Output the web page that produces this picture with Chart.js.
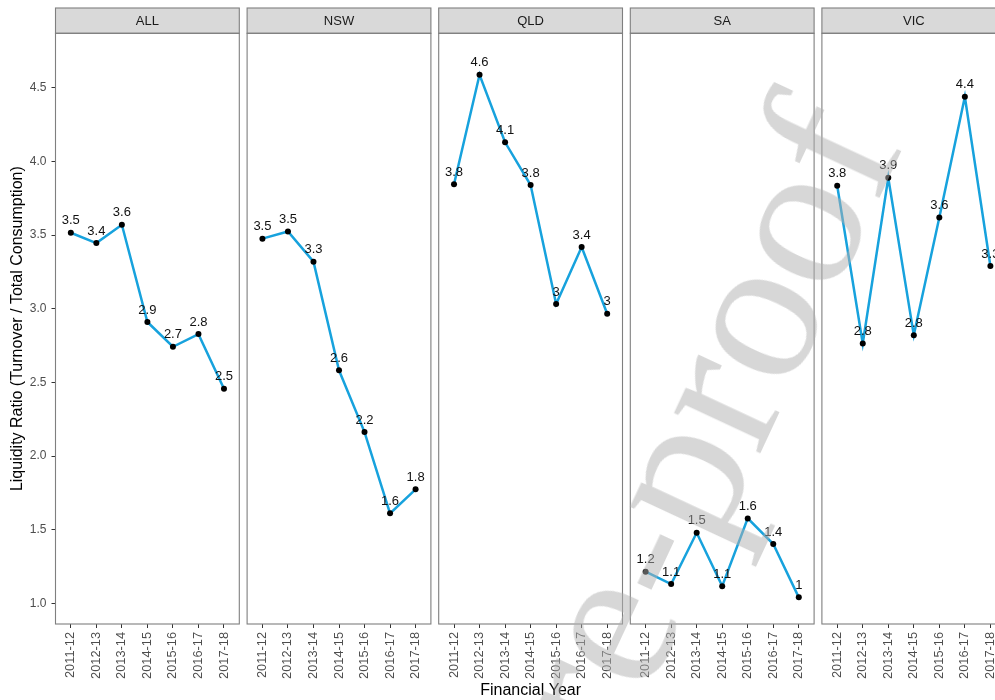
<!DOCTYPE html>
<html>
<head>
<meta charset="utf-8">
<script src="https://cdn.jsdelivr.net/npm/chart.js@4.4.1/dist/chart.umd.min.js"></script>
<style>
  html, body { margin: 0; padding: 0; background: #ffffff; }
  #stage { position: relative; width: 995px; height: 700px; overflow: hidden; background: #ffffff; }
  #stage canvas { position: absolute; left: 0; top: 0; }
  #wm { position: absolute; left: 905px; top: 143px; width: 0; height: 0;
        transform: rotate(-65deg); transform-origin: 0 0; pointer-events: none; }
  #wm span { position: absolute; right: 0; bottom: -0.1625em; font-family: "Liberation Serif", "Times New Roman", serif;
             font-size: 208px; line-height: 1; white-space: nowrap; color: rgba(175,175,175,0.5); }
</style>
</head>
<body>
<div id="stage">
  <canvas id="c0" width="1100" height="700"></canvas>
  <canvas id="c1" width="1100" height="700"></canvas>
  <canvas id="c2" width="1100" height="700"></canvas>
  <canvas id="c3" width="1100" height="700"></canvas>
  <canvas id="c4" width="1100" height="700"></canvas>
  <div id="wm"><span>Journal Pre-proof</span></div>
</div>
<script>
// Financial years on the x axis
const years = ['2011-12', '2012-13', '2013-14', '2014-15', '2015-16', '2016-17', '2017-18'];
// Facet names
const regions = ['ALL', 'NSW', 'QLD', 'SA', 'VIC'];
// Liquidity ratio per region
const allRatio = [3.516, 3.446, 3.570, 2.910, 2.742, 2.828, 2.457];
const nswRatio = [3.476, 3.525, 3.320, 2.582, 2.163, 1.611, 1.774];
const qldRatio = [3.845, 4.589, 4.130, 3.840, 3.032, 3.419, 2.966];
const saRatio  = [1.215, 1.131, 1.479, 1.117, 1.577, 1.403, 1.041];
const vicRatio = [3.835, 2.765, 3.889, 2.821, 3.620, 4.439, 3.290];
// Y axis tick values
const yTicks = [1.0, 1.5, 2.0, 2.5, 3.0, 3.5, 4.0, 4.5];

const seriesByRegion = [allRatio, nswRatio, qldRatio, saRatio, vicRatio];

const FONT = '"Liberation Sans", Arial, sans-serif';
const LINE_COLOR = '#17a2dd';
const BORDER_COLOR = '#7f7f7f';
const CANVAS_W = 1100;

// Panel geometry (facet grid)
const PANEL_LEFT0 = 55.5;
const PANEL_STEP = 191.6;
const PANEL_W = 183.8;
const STRIP_TOP = 8;
const PANEL_TOP = 33.3;
const XAXIS_H = 76;

const fmtLabel = v => String(Math.round(v * 10) / 10);

// Grey facet strip with the region name, plus the panel border
const facetPlugin = {
  id: 'facet',
  beforeDatasetsDraw(chart, args, opts) {
    const { ctx, chartArea: a } = chart;
    ctx.save();
    ctx.fillStyle = '#d9d9d9';
    ctx.fillRect(a.left, STRIP_TOP, a.right - a.left, a.top - STRIP_TOP);
    ctx.strokeStyle = BORDER_COLOR;
    ctx.lineWidth = 1.1;
    ctx.strokeRect(a.left, STRIP_TOP, a.right - a.left, a.top - STRIP_TOP);
    ctx.fillStyle = '#1a1a1a';
    ctx.font = '13px ' + FONT;
    ctx.textAlign = 'center';
    ctx.textBaseline = 'middle';
    ctx.fillText(opts.title, (a.left + a.right) / 2, (STRIP_TOP + a.top) / 2 + 0.5);
    ctx.strokeRect(a.left, a.top, a.right - a.left, a.bottom - a.top);
    ctx.restore();
  }
};

// Rounded value printed above each point
const valueLabelPlugin = {
  id: 'valueLabels',
  afterDatasetsDraw(chart) {
    const { ctx } = chart;
    const meta = chart.getDatasetMeta(0);
    const data = chart.data.datasets[0].data;
    ctx.save();
    ctx.fillStyle = '#111111';
    ctx.font = '13px ' + FONT;
    ctx.textAlign = 'center';
    ctx.textBaseline = 'alphabetic';
    meta.data.forEach((pt, i) => {
      ctx.fillText(fmtLabel(data[i].y), pt.x, pt.y - 8.5);
    });
    ctx.restore();
  }
};

function makePanel(idx) {
  const left = PANEL_LEFT0 + PANEL_STEP * idx;
  const right = left + PANEL_W;
  const first = idx === 0;
  const values = seriesByRegion[idx];
  const points = years.map((y, i) => ({ x: i, y: values[i] }));

  return new Chart(document.getElementById('c' + idx), {
    type: 'line',
    data: {
      datasets: [{
        data: points,
        borderColor: LINE_COLOR,
        borderWidth: 2.5,
        tension: 0,
        pointRadius: 3,
        pointBackgroundColor: '#000000',
        pointBorderWidth: 0,
        fill: false
      }]
    },
    options: {
      responsive: false,
      animation: false,
      events: [],
      devicePixelRatio: 1,
      layout: {
        padding: { left: first ? 0 : left, right: CANVAS_W - right, top: PANEL_TOP, bottom: 0 }
      },
      plugins: {
        legend: { display: false },
        tooltip: { enabled: false },
        facet: { title: regions[idx] }
      },
      scales: {
        x: {
          type: 'linear',
          min: -0.6,
          max: 6.6,
          afterBuildTicks: s => { s.ticks = years.map((_, i) => ({ value: i })); },
          afterFit: s => { s.height = XAXIS_H; },
          ticks: {
            callback: v => years[v],
            autoSkip: false,
            minRotation: 90,
            maxRotation: 90,
            padding: 4,
            color: '#4d4d4d',
            font: { family: FONT, size: 12.8 }
          },
          grid: { display: true, drawOnChartArea: false, drawTicks: true, tickLength: 4, color: '#333333', lineWidth: 1 },
          border: { display: false },
          title: {
            display: idx === 2,
            text: 'Financial Year',
            color: '#000000',
            font: { family: FONT, size: 16 },
            padding: { top: 0, bottom: 0 }
          }
        },
        y: {
          type: 'linear',
          display: first,
          min: 0.86,
          max: 4.87,
          afterBuildTicks: s => { s.ticks = yTicks.map(v => ({ value: v })); },
          afterFit: s => { if (first) s.width = PANEL_LEFT0; },
          ticks: {
            callback: v => v.toFixed(1),
            padding: 5,
            color: '#4d4d4d',
            font: { family: FONT, size: 12 }
          },
          grid: { display: true, drawOnChartArea: false, drawTicks: true, tickLength: 4, color: '#333333', lineWidth: 1 },
          border: { display: false },
          title: {
            display: first,
            text: 'Liquidity Ratio (Turnover / Total Consumption)',
            color: '#000000',
            font: { family: FONT, size: 16 },
            padding: { top: 8, bottom: 0 }
          }
        }
      }
    },
    plugins: [facetPlugin, valueLabelPlugin]
  });
}

regions.forEach((_, i) => makePanel(i));
</script>
</body>
</html>
